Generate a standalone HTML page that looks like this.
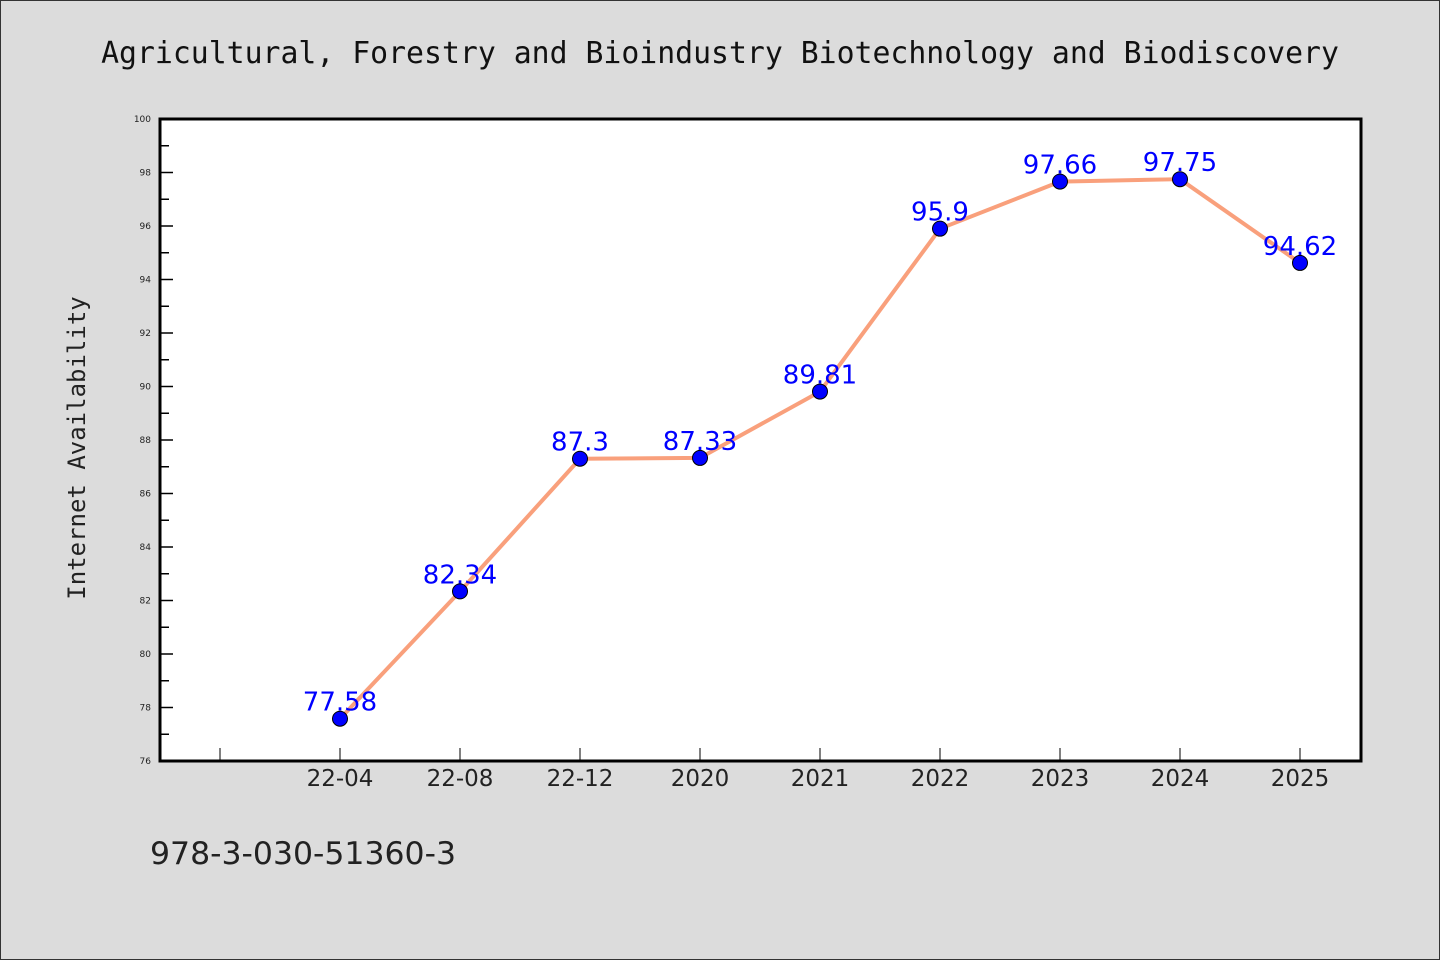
<!DOCTYPE html>
<html><head><meta charset="utf-8"><style>
html,body{margin:0;padding:0;background:#dcdcdc;}
svg{display:block;}
</style></head><body>
<svg width="1440" height="960" xmlns="http://www.w3.org/2000/svg">
<rect x="0.5" y="0.5" width="1439" height="959" fill="#dcdcdc" stroke="#333"/>
<text x="720" y="63" text-anchor="middle" font-family="'DejaVu Sans Mono','Liberation Mono',monospace" font-size="29.8" fill="#111">Agricultural, Forestry and Bioindustry Biotechnology and Biodiscovery</text>
<rect x="160" y="119" width="1201" height="642" fill="#fff"/>
<g id="yaxis"></g>
<g id="xaxis"></g>
<g id="series"></g>
<rect x="160" y="119" width="1201" height="642" fill="none" stroke="#000" stroke-width="3"/>
<text transform="translate(85,448) rotate(-90)" text-anchor="middle" font-family="'DejaVu Sans Mono','Liberation Mono',monospace" font-size="24" fill="#222">Internet Availability</text>
<text x="150" y="864" font-family="'DejaVu Sans','Liberation Sans',sans-serif" font-size="31.5" fill="#222">978-3-030-51360-3</text>
</svg>
<script>
const categories = ["22-04","22-08","22-12","2020","2021","2022","2023","2024","2025"];
const values = [77.58,82.34,87.3,87.33,89.81,95.9,97.66,97.75,94.62];
const valueLabels = ["77.58","82.34","87.3","87.33","89.81","95.9","97.66","97.75","94.62"];
const yTicks = [76,78,80,82,84,86,88,90,92,94,96,98,100];
const NS="http://www.w3.org/2000/svg";
const yMin=76,yMax=100,plotTop=119,plotBot=761;
function yScale(v){return plotBot-(v-yMin)/(yMax-yMin)*(plotBot-plotTop);}
function xScale(i){return 340+120*i;}
function mk(tag,attrs,parent){const e=document.createElementNS(NS,tag);for(const k in attrs)e.setAttribute(k,attrs[k]);parent.appendChild(e);return e;}
const ya=document.getElementById('yaxis'),xa=document.getElementById('xaxis'),se=document.getElementById('series');
for(let v=yMin;v<=yMax;v++){
  const major=yTicks.includes(v);
  const t=mk('line',{x1:160,x2:major?173:169,y1:yScale(v),y2:yScale(v),stroke:'#000','stroke-width':1.5},ya);
  
  
}
yTicks.forEach(v=>{
  const t=mk('text',{x:151,y:yScale(v)+3,'text-anchor':'end','font-family':"'DejaVu Sans','Liberation Sans',sans-serif",'font-size':9,fill:'#222'},ya);
  t.textContent=v;
  
  
});
for(let i=-1;i<categories.length;i++){
  const t=mk('line',{x1:xScale(i),x2:xScale(i),y1:plotBot,y2:plotBot-13,stroke:'#000','stroke-width':1},xa);
  
  
}
categories.forEach((c,i)=>{
  const t=mk('text',{x:xScale(i),y:plotBot+25,'text-anchor':'middle','font-family':"'DejaVu Sans','Liberation Sans',sans-serif",'font-size':23,fill:'#222'},xa);
  t.textContent=c;
  
  
});
const pl=mk('polyline',{points:values.map((v,i)=>xScale(i)+','+yScale(v)).join(' '),fill:'none',stroke:'#f9a07c','stroke-width':4,'stroke-linejoin':'round'},se);


values.forEach((v,i)=>{
  const c=mk('circle',{cx:xScale(i),cy:yScale(v),r:7.5,fill:'#0000ff',stroke:'#000','stroke-width':1},se);
  
  
});
values.forEach((v,i)=>{
  const t=mk('text',{x:xScale(i),y:yScale(v)-8,'text-anchor':'middle','font-family':"'DejaVu Sans','Liberation Sans',sans-serif",'font-size':26,fill:'#0000ff'},se);
  t.textContent=valueLabels[i];
  
  
});
</script>
</body></html>
